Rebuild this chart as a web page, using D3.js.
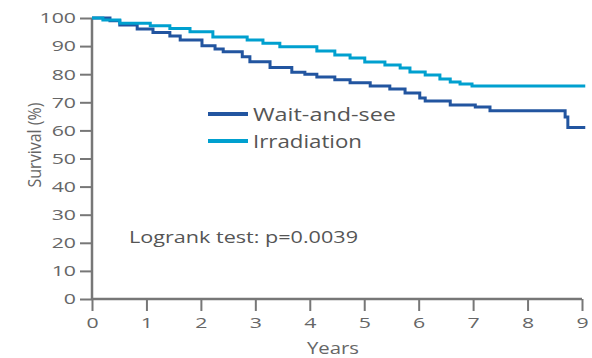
<!DOCTYPE html>
<html>
<head>
<meta charset="utf-8">
<script src="https://cdn.jsdelivr.net/npm/d3@7"></script>
<style>
  body { margin: 0; background: #fff; }
  text { font-family: "Open Sans", "DejaVu Sans", sans-serif; }
</style>
</head>
<body>
<script>
// survival step curves: [year, survival %] (value holds until next year)
var waitAndSee = [
  [0, 100], [0.33, 99], [0.51, 97.5], [0.83, 96.1], [1.12, 94.8],
  [1.43, 93.6], [1.62, 92.2], [2.02, 90.1], [2.26, 89], [2.41, 88],
  [2.76, 86.2], [2.9, 84.4], [3.27, 82.4], [3.67, 80.7], [3.91, 80],
  [4.13, 79], [4.46, 78], [4.74, 77], [5.11, 75.8], [5.47, 74.7],
  [5.75, 73.3], [6.02, 71.5], [6.12, 70.5], [6.58, 69], [7.04, 68.3],
  [7.31, 67], [8.69, 64.8], [8.74, 61], [9.06, 61]
];
var irradiation = [
  [0, 100], [0.2, 99.3], [0.51, 98.1], [1.07, 97.2], [1.43, 96.3],
  [1.8, 95.1], [2.22, 93.2], [2.85, 92.2], [3.14, 91], [3.45, 89.8],
  [4.13, 88.3], [4.46, 86.8], [4.74, 85.8], [5.01, 84.3], [5.38, 83.3],
  [5.66, 82.2], [5.84, 80.8], [6.12, 79.7], [6.39, 78.3], [6.58, 77.2],
  [6.76, 76.5], [6.98, 75.8], [9.06, 75.8]
];
var xTicks = [0, 1, 2, 3, 4, 5, 6, 7, 8, 9];
var yTicks = [0, 10, 20, 30, 40, 50, 60, 70, 80, 90, 100];
var seriesNames = ["Wait-and-see", "Irradiation"];
var seriesColors = ["#2255a0", "#00a0cf"];
var testLabel = "Logrank test: p=0.0039";

var w = 592, h = 358;
var stretch = 1.42; // the source picture is stretched sideways

var svg = d3.select("body").append("svg")
  .attr("width", w)
  .attr("height", h);

var x = d3.scaleLinear().domain([0, 9]).range([92, 582]);
var y = d3.scaleLinear().domain([0, 100]).range([299, 18]);

var line = d3.line()
  .x(function(d) { return x(d[0]); })
  .y(function(d) { return y(d[1]); })
  .curve(d3.curveStepAfter);

// axes
var xAxis = svg.append("g")
  .attr("transform", "translate(0," + y(0) + ")")
  .call(d3.axisBottom(x).tickValues(xTicks).tickSize(12).tickPadding(6).tickFormat(d3.format("d")));
var yAxis = svg.append("g")
  .attr("transform", "translate(" + x(0) + ",0)")
  .call(d3.axisLeft(y).tickValues(yTicks).tickSize(12).tickPadding(4).tickFormat(d3.format("d")));

[xAxis, yAxis].forEach(function(a) {
  a.select(".domain").attr("stroke", "#777").attr("stroke-width", 2.5);
  a.selectAll(".tick line").attr("stroke", "#777").attr("stroke-width", 2);
  a.selectAll(".tick text").attr("fill", "#666").style("font-size", "15px")
    .attr("transform", "scale(" + stretch + ",1)");
});
yAxis.selectAll(".tick text").attr("x", -16 / stretch);
yAxis.select(".domain").attr("d", "M0," + y(0) + "V" + y(100));
xAxis.select(".domain").attr("d", "M" + x(0) + ",0H" + x(9));

svg.append("text")
  .attr("x", 333).attr("y", 354)
  .attr("text-anchor", "middle")
  .attr("fill", "#666")
  .style("font-size", "16px")
  .attr("textLength", 52).attr("lengthAdjust", "spacingAndGlyphs")
  .text("Years");

svg.append("text")
  .attr("transform", "translate(41,145) scale(1.35,1) rotate(-90)")
  .attr("text-anchor", "middle")
  .attr("fill", "#666")
  .style("font-size", "14px")
  .attr("textLength", 85).attr("lengthAdjust", "spacingAndGlyphs")
  .text("Survival (%)");

// curves
svg.selectAll("path.curve")
  .data([waitAndSee, irradiation])
  .enter()
  .append("path")
  .attr("class", "curve")
  .attr("d", line)
  .attr("fill", "none")
  .attr("stroke", function(d, i) { return seriesColors[i]; })
  .attr("stroke-width", 3);

// legend
var legend = svg.selectAll("g.legend")
  .data(seriesNames)
  .enter()
  .append("g")
  .attr("class", "legend")
  .attr("transform", function(d, i) { return "translate(208," + (114 + i * 27) + ")"; });
legend.append("line")
  .attr("x1", 0).attr("x2", 40)
  .attr("stroke", function(d, i) { return seriesColors[i]; })
  .attr("stroke-width", 4);
legend.append("text")
  .attr("x", 45).attr("y", 7)
  .attr("fill", "#555")
  .style("font-size", "19px")
  .attr("textLength", function(d, i) { return i === 0 ? 143 : 109; })
  .attr("lengthAdjust", "spacingAndGlyphs")
  .text(function(d) { return d; });

svg.append("text")
  .attr("x", 129).attr("y", 243)
  .attr("fill", "#555")
  .style("font-size", "17px")
  .attr("textLength", 229).attr("lengthAdjust", "spacingAndGlyphs")
  .text(testLabel);
</script>
</body>
</html>
